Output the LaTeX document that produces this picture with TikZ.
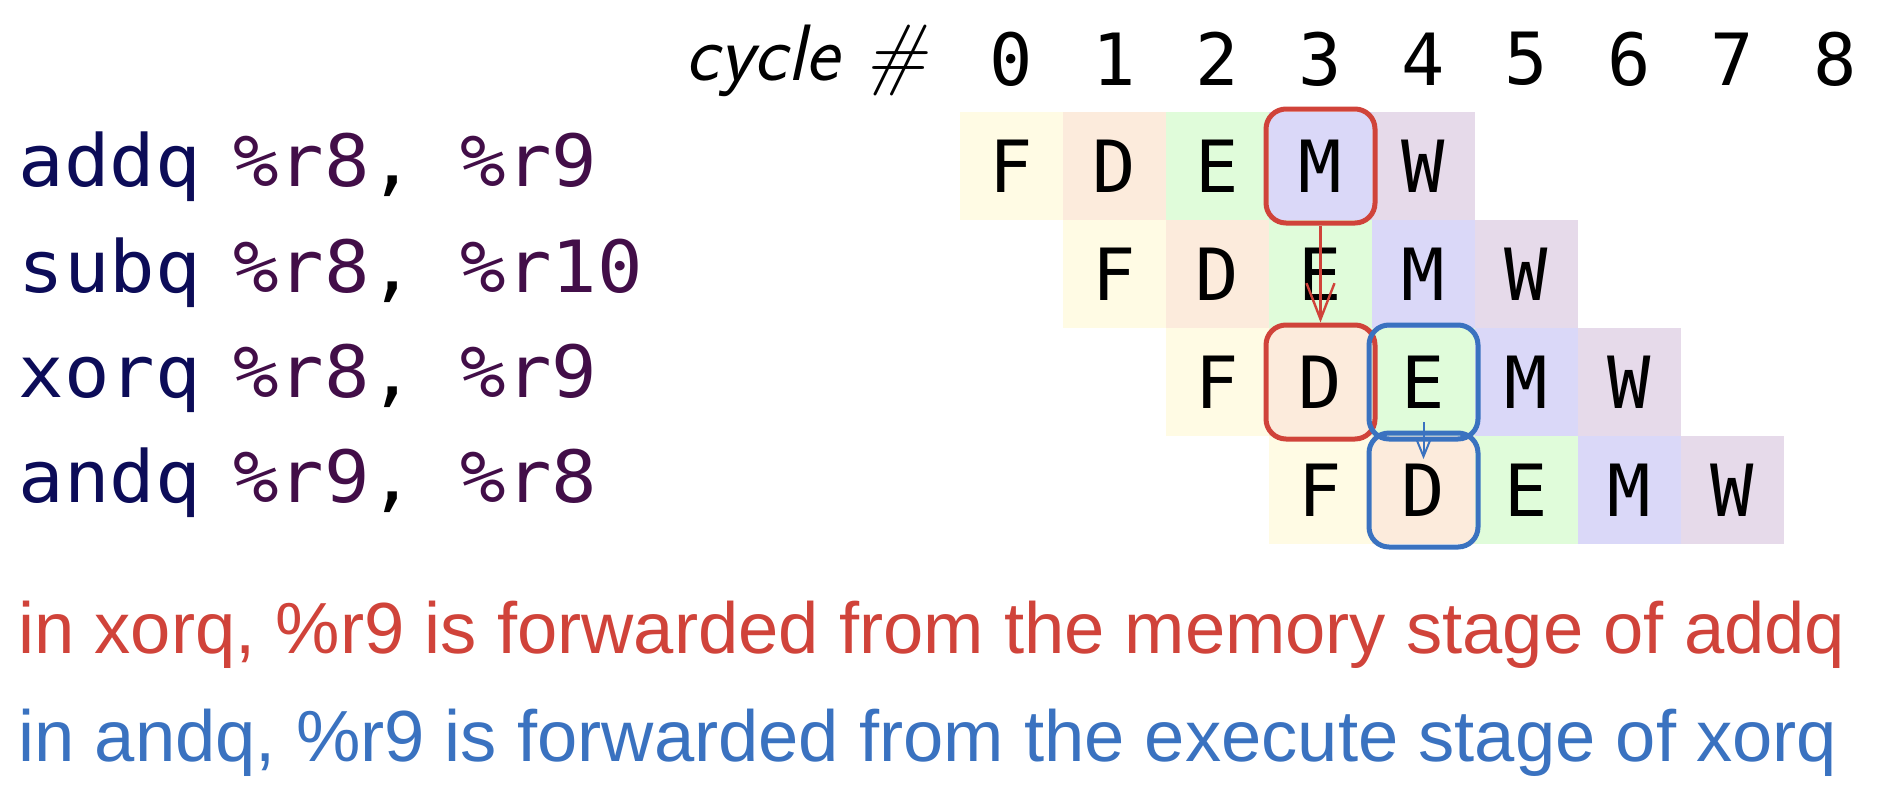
\documentclass[tikz,border=0pt]{standalone}
\usepackage{fontspec}
\usepackage{xcolor}
\usetikzlibrary{arrows.meta, positioning, fit}

\newfontfamily\codefont[FakeStretch=1.05]{DejaVu Sans Mono}
\newfontfamily\stagefont{DejaVu Sans Mono}
\newfontfamily\notefont{Liberation Sans}

\definecolor{opcol}{RGB}{12,12,88}
\definecolor{regcol}{RGB}{66,14,72}
\definecolor{fwdred}{RGB}{208,67,58}
\definecolor{fwdblue}{RGB}{58,114,192}
\definecolor{fcol}{RGB}{255,251,228}
\definecolor{dcol}{RGB}{252,235,220}
\definecolor{ecol}{RGB}{224,252,218}
\definecolor{mcol}{RGB}{218,216,248}
\definecolor{wcol}{RGB}{230,218,234}

\newcommand{\opname}[1]{\textcolor{opcol}{#1}}
\newcommand{\regname}[1]{\textcolor{regcol}{#1}}

\begin{document}
\begin{tikzpicture}[x=0.5pt,y=-0.5pt,>={Straight Barb[length=18pt,width=14pt]}]
	\tikzset{cell/.style={minimum width=51.5pt,minimum height=54pt,inner sep=0pt,outer sep=0pt,font=\stagefont\fontsize{36}{40}\selectfont},
		fstage/.style={cell,fill=fcol},
		dstage/.style={cell,fill=dcol},
		estage/.style={cell,fill=ecol},
		mstage/.style={cell,fill=mcol},
		wstage/.style={cell,fill=wcol},
		cyc/.style={minimum width=51.5pt,inner sep=0pt,outer sep=0pt,font=\stagefont\fontsize{36}{40}\selectfont},
		code/.style={anchor=base west,inner sep=0pt,font=\codefont\fontsize{36}{40}\selectfont},
		note/.style={anchor=base west,inner sep=0pt,font=\notefont\fontsize{36.2}{40}\selectfont},
		hlred/.style={draw=fwdred,line width=2.5pt,rounded corners=10pt,inner sep=1.5pt},
		hlblue/.style={draw=fwdblue,line width=2.5pt,rounded corners=10pt,inner sep=1.5pt}}
	\useasboundingbox (0,0) rectangle (1886,794);

	% cycle numbers
	\node[anchor=base east,inner sep=0pt,font=\fontsize{40}{44}\selectfont] (cyclbl) at (928,80) {\sffamily\itshape cycle {\rmfamily\#}};
	\node[cyc,anchor=base] (c0) at (1011.5,85) {0};
	\node[cyc] (c1) [right=0pt of c0] {1};
	\node[cyc] (c2) [right=0pt of c1] {2};
	\node[cyc] (c3) [right=0pt of c2] {3};
	\node[cyc] (c4) [right=0pt of c3] {4};
	\node[cyc] (c5) [right=0pt of c4] {5};
	\node[cyc] (c6) [right=0pt of c5] {6};
	\node[cyc] (c7) [right=0pt of c6] {7};
	\node[cyc] (c8) [right=0pt of c7] {8};

	% instructions
	\node[code] (i1) at (18.5,186) {\opname{addq}\hspace{0.45em}\regname{\%r8}, \regname{\%r9}};
	\node[code] (i2) at (18.5,292) {\opname{subq}\hspace{0.45em}\regname{\%r8}, \regname{\%r10}};
	\node[code] (i3) at (18.5,397) {\opname{xorq}\hspace{0.45em}\regname{\%r8}, \regname{\%r9}};
	\node[code] (i4) at (18.5,502) {\opname{andq}\hspace{0.45em}\regname{\%r9}, \regname{\%r8}};

	% pipeline stages
	\node[fstage] (f1) at (1011.5,166) {F};
	\node[dstage] (d1) [right=0pt of f1] {D};
	\node[estage] (e1) [right=0pt of d1] {E};
	\node[mstage] (m1) [right=0pt of e1] {M};
	\node[wstage] (w1) [right=0pt of m1] {W};

	\node[fstage] (f2) [below=0pt of d1] {F};
	\node[dstage] (d2) [right=0pt of f2] {D};
	\node[estage] (e2) [right=0pt of d2] {E};
	\node[mstage] (m2) [right=0pt of e2] {M};
	\node[wstage] (w2) [right=0pt of m2] {W};

	\node[fstage] (f3) [below=0pt of d2] {F};
	\node[dstage] (d3) [right=0pt of f3] {D};
	\node[estage] (e3) [right=0pt of d3] {E};
	\node[mstage] (m3) [right=0pt of e3] {M};
	\node[wstage] (w3) [right=0pt of m3] {W};

	\node[fstage] (f4) [below=0pt of d3] {F};
	\node[dstage] (d4) [right=0pt of f4] {D};
	\node[estage] (e4) [right=0pt of d4] {E};
	\node[mstage] (m4) [right=0pt of e4] {M};
	\node[wstage] (w4) [right=0pt of m4] {W};

	% forwarding
	\node[hlred,fit=(m1)] (fwdm) {};
	\node[hlred,fit=(d3)] (fwdd) {};
	\node[hlblue,fit=(e3)] (fwde) {};
	\node[hlblue,fit=(d4)] (fwdd2) {};
	\draw[->,draw=fwdred,line width=1.2pt] (fwdm.south) -- (fwdd.north);
	\draw[->,draw=fwdblue,line width=1pt,>={Straight Barb[length=8.5pt,width=7pt]},shorten <=20pt,shorten >=15.5pt] (e3.center) -- (d4.center);

	\node[note,text=fwdred] (note1) at (18,653) {in xorq, \%r9 is forwarded from the memory stage of addq};
	\node[note,text=fwdblue] (note2) at (18,761) {in andq, \%r9 is forwarded from the execute stage of xorq};
\end{tikzpicture}
\end{document}
